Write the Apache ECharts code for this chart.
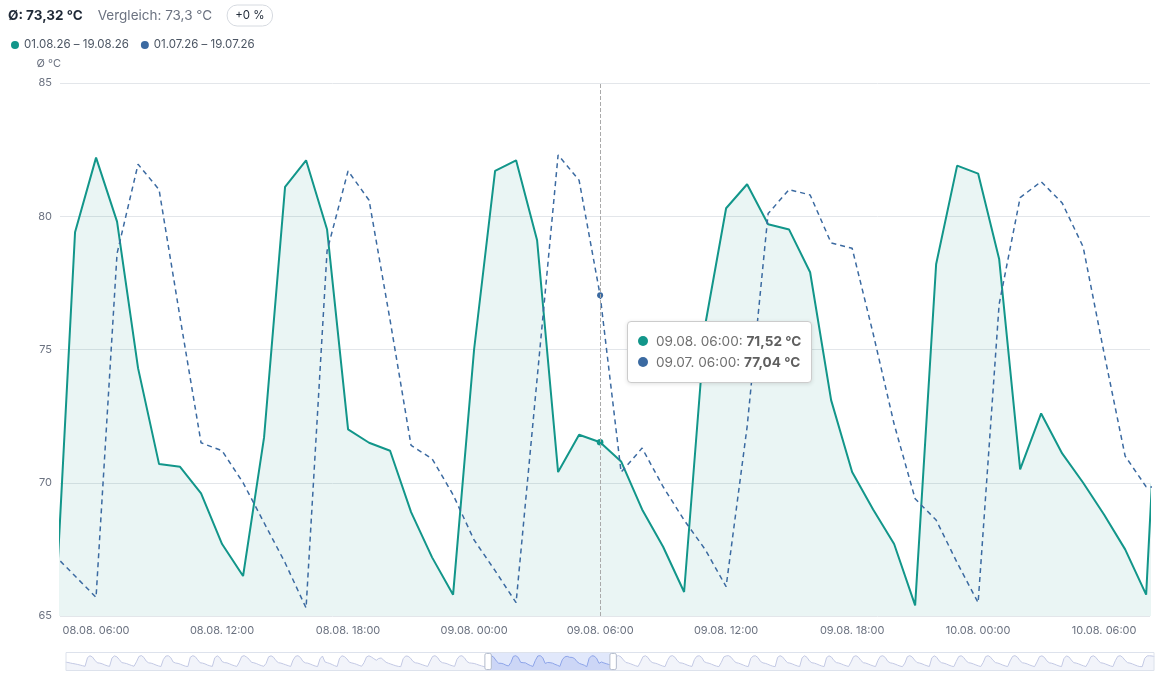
<!DOCTYPE html>
<html>
<head>
<meta charset="utf-8">
<title>Temperatur</title>
<script src="https://cdn.jsdelivr.net/npm/echarts@6/dist/echarts.min.js"></script>
<style>
  html, body { margin: 0; padding: 0; background: #fff; }
  #chart { width: 1173px; height: 680px; }
</style>
</head>
<body>
<div id="chart"></div>
<script>
// Kopfzeile
var avgText = '73,32 °C';
var compareAvgText = '73,3 °C';
var changeText = '+0 %';

// Legende / Zeiträume
var seriesNames = ['01.08.26 – 19.08.26', '01.07.26 – 19.07.26'];

// Stundenwerte August, ab 01.08. 00:00 (eine Zeile pro Tag)
var augStart = '2026-08-01T00:00';
var augValues = [
  72.4, 71.8, 71.0, 70.2, 69.6, 68.8, 67.9, 66.9, 66.0, 79.2, 82.0, 80.1, 75.2, 71.3, 70.9, 69.8, 68.2, 66.8, 65.9, 78.6, 81.8, 80.4, 76.1, 71.6,
  71.0, 70.1, 68.6, 67.3, 66.1, 72.8, 80.9, 82.3, 79.6, 73.8, 71.2, 70.8, 69.5, 67.9, 66.6, 65.7, 76.4, 81.5, 82.0, 79.2, 72.5, 71.0, 70.4, 69.1,
  67.6, 66.2, 65.6, 79.8, 82.1, 80.7, 75.9, 71.4, 70.9, 69.7, 68.0, 66.7, 65.9, 78.9, 81.9, 79.3, 73.2, 71.6, 71.2, 69.8, 68.1, 66.9, 65.8, 72.4,
  80.8, 82.2, 80.0, 76.8, 72.1, 71.3, 70.2, 68.5, 67.1, 66.0, 70.6, 80.4, 81.9, 79.8, 74.6, 71.5, 70.9, 69.6, 68.3, 67.0, 65.8, 75.5, 81.2, 82.1,
  79.4, 73.6, 71.2, 70.8, 69.4, 67.9, 66.5, 65.6, 77.3, 81.6, 72.8, 71.4, 70.3, 68.6, 66.9, 65.7, 78.4, 82.0, 80.6, 77.2, 72.3, 71.1, 70.2, 68.9,
  67.4, 66.1, 71.5, 80.2, 81.9, 80.1, 77.6, 75.2, 77.9, 78.6, 75.4, 72.1, 70.6, 69.3, 68.0, 66.8, 65.9, 65.5, 77.6, 81.7, 81.2, 78.3, 73.4, 71.3,
  70.8, 69.5, 68.1, 66.9, 65.8, 73.9, 80.9, 82.1, 79.6, 74.0, 71.5, 70.9, 69.8, 68.2, 66.9, 65.9, 76.8, 81.4, 82.0, 79.0, 73.5, 71.2, 70.8, 70.3,
  69.1, 67.8, 66.6, 65.6, 64.3, 79.4, 82.2, 79.8, 74.3, 70.7, 70.6, 69.6, 67.7, 66.5, 71.7, 81.1, 82.1, 79.5, 72.0, 71.5, 71.2, 68.9, 67.2, 65.8,
  75.0, 81.7, 82.1, 79.1, 70.4, 71.8, 71.52, 70.8, 69.0, 67.6, 65.9, 75.9, 80.3, 81.2, 79.7, 79.5, 77.9, 73.1, 70.4, 69.0, 67.7, 65.4, 78.2, 81.9,
  81.6, 78.4, 70.5, 72.6, 71.1, 70.0, 68.8, 67.5, 65.8, 81.0, 82.3, 80.2, 75.6, 71.8, 71.0, 69.7, 68.2, 66.8, 65.8, 72.9, 80.7, 82.0, 79.4, 73.8,
  71.4, 70.7, 69.5, 67.9, 66.5, 65.6, 74.8, 81.1, 82.2, 79.9, 74.6, 71.3, 70.9, 69.6, 68.0, 66.7, 65.8, 76.3, 81.3, 82.0, 79.3, 73.0, 71.4, 70.6,
  69.2, 67.6, 66.3, 65.5, 72.1, 80.2, 81.8, 82.1, 79.7, 74.9, 71.6, 70.8, 69.4, 67.9, 66.4, 65.6, 77.8, 81.6, 81.9, 79.1, 73.4, 71.2, 70.5, 69.1,
  67.5, 66.2, 65.5, 79.6, 82.1, 80.3, 75.7, 71.5, 70.9, 69.6, 68.0, 66.6, 65.7, 78.9, 82.0, 79.6, 74.1, 71.4, 70.8, 69.5, 67.9, 66.5, 65.6, 79.2,
  81.9, 80.0, 74.8, 71.6, 71.0, 69.7, 68.1, 66.8, 65.8, 72.6, 80.6, 82.1, 79.8, 75.0, 71.5, 70.9, 69.5, 68.0, 66.6, 65.6, 75.1, 81.2, 82.0, 79.4,
  73.6, 71.3, 70.6, 69.3, 67.8, 66.4, 65.5, 70.9, 80.5, 82.2, 80.1, 75.3, 71.6, 71.0, 69.8, 68.2, 66.8, 65.7, 78.8, 81.9, 79.7, 74.2, 71.4, 70.7,
  69.4, 67.8, 66.4, 65.5, 73.5, 80.8, 82.0, 79.5, 74.4, 71.5, 70.9, 69.6, 68.1, 66.7, 65.7, 71.8, 80.7, 82.1, 79.9, 75.2, 71.6, 70.9, 69.5, 67.9,
  66.6, 65.6, 74.2, 81.0, 82.2, 79.8, 74.7, 71.4, 70.8, 69.6, 68.0, 66.6, 65.6, 72.7, 80.6, 81.9, 79.6, 74.3, 71.3, 70.7, 69.4, 67.9, 66.5, 65.6,
  77.8, 81.8, 80.3, 75.6, 71.5, 70.9, 69.7, 68.1, 66.7, 65.7, 72.3, 80.4, 82.0, 79.7, 74.8, 71.4, 70.8, 69.5, 68.0, 66.6, 65.6, 74.6, 81.1, 82.1,
  79.6, 74.9, 71.5, 70.9, 69.6, 68.0, 66.6, 65.6, 65.5, 78.1, 81.7, 82.0, 81.6, 80.9
];

// Vergleichswerte Juli, ab 08.07. 04:00 (sichtbarer Ausschnitt)
var julStart = '2026-07-08T04:00';
var julShiftDays = 31;
var julValues = [
  67.3, 66.5, 65.7, 78.6, 81.95, 81.0, 76.2, 71.5, 71.2, 70.0, 68.5, 67.0, 65.3, 78.7, 81.7, 80.6, 76.1, 71.4, 70.9, 69.55,
  67.85, 66.7, 65.5, 73.9, 82.3, 81.35, 77.04, 70.4, 71.3, 69.85, 68.6, 67.5, 66.1, 72.1, 80.1, 81.0, 80.8, 79.0, 78.8, 75.6, 72.2, 69.4, 68.6, 67.0,
  65.5, 76.7, 80.7, 81.3, 80.5, 78.85, 74.85, 71.0, 69.85, 69.8
];

// Achsen
var xTicks = ['2026-08-08T06:00', '2026-08-08T12:00', '2026-08-08T18:00', '2026-08-09T00:00', '2026-08-09T06:00',
              '2026-08-09T12:00', '2026-08-09T18:00', '2026-08-10T00:00', '2026-08-10T06:00'];
var yMin = 65, yMax = 85, yStep = 5;
var viewFrom = '2026-08-08T04:17';
var viewTo = '2026-08-10T08:11';
var hoverAt = '2026-08-09T06:00';

var HOUR = 3600 * 1000;
var green = '#12968a';
var blue = '#3b6aa1';

function t(s) { return new Date(s).getTime(); }
function pad(n) { return (n < 10 ? '0' : '') + n; }
function fmtDate(ms) {
    var d = new Date(ms);
    return pad(d.getDate()) + '.' + pad(d.getMonth() + 1) + '. ' + pad(d.getHours()) + ':' + pad(d.getMinutes());
}
function fmtNum(v) { return v.toFixed(2).replace('.', ','); }

var augData = augValues.map(function (v, i) {
    var x = t(augStart) + i * HOUR;
    return [x, v, x];
});
var julData = julValues.map(function (v, i) {
    var real = t(julStart) + i * HOUR;
    return [real + julShiftDays * 24 * HOUR, v, real];
});

var myChart = echarts.init(document.getElementById('chart'));

var font = 'Inter, "Noto Sans", sans-serif';

var option = {
    animation: false,
    textStyle: { fontFamily: font },
    title: {
        left: 8,
        top: 5,
        padding: 0,
        text: '{a|Ø: }{b|' + avgText + '}{s|}{c|Vergleich: ' + compareAvgText + '}{s2|}{d|' + changeText + '}',
        textStyle: {
            fontWeight: 'normal',
            rich: {
                a: { fontSize: 13.5, color: '#1f2937', fontWeight: 'bold', fontFamily: font },
                b: { fontSize: 13.5, color: '#1f2937', fontWeight: 'bold', fontFamily: font },
                s: { width: 15 },
                c: { fontSize: 13.5, color: '#6b7280', fontWeight: 'normal', fontFamily: font },
                s2: { width: 15 },
                d: {
                    fontSize: 11.5, color: '#1f2937', fontWeight: 'normal', fontFamily: font,
                    borderColor: '#d6dae0', borderWidth: 1, borderRadius: 10,
                    padding: [5, 8, 4, 8]
                }
            }
        }
    },
    legend: {
        left: 6,
        top: 34,
        icon: 'circle',
        itemWidth: 8,
        itemHeight: 8,
        itemGap: 12,
        textStyle: { fontSize: 11.5, color: '#4b5563', fontFamily: font },
        data: [
            { name: seriesNames[0], itemStyle: { color: green } },
            { name: seriesNames[1], itemStyle: { color: blue } }
        ]
    },
    grid: { left: 60, right: 23, top: 83, bottom: 64 },
    tooltip: {
        trigger: 'axis',
        alwaysShowContent: true,
        backgroundColor: '#fff',
        borderColor: '#cccccc',
        borderWidth: 1,
        padding: [9, 10, 9, 10],
        extraCssText: 'box-shadow: 0 1px 4px rgba(0,0,0,0.12); border-radius: 4px;',
        position: function (point) { return [point[0] + 27, 321]; },
        axisPointer: {
            type: 'line',
            lineStyle: { color: '#aaaaaa', type: 'dashed', width: 1 }
        },
        formatter: function (params) {
            return params.map(function (p) {
                var c = p.seriesIndex === 0 ? green : blue;
                return '<div style="line-height:21px;font-size:13.6px;color:#707070;font-family:Inter,sans-serif">' +
                    '<span style="display:inline-block;width:10px;height:10px;border-radius:5px;background:' + c + ';margin-right:8px;"></span>' +
                    fmtDate(p.value[2]) + ': <b style="color:#5f5f5f">' + fmtNum(p.value[1]) + ' °C</b></div>';
            }).join('');
        }
    },
    xAxis: {
        type: 'value',
        min: 'dataMin',
        max: 'dataMax',
        axisLine: { show: false },
        axisTick: { show: false },
        splitLine: { show: false },
        axisLabel: {
            customValues: xTicks.map(t),
            formatter: function (v) { return fmtDate(v); },
            fontSize: 11,
            color: '#6b7280',
            margin: 9,
            hideOverlap: false
        }
    },
    yAxis: {
        type: 'value',
        min: yMin,
        max: yMax,
        interval: yStep,
        name: 'Ø °C',
        nameLocation: 'end',
        nameGap: 14,
        nameTextStyle: { fontSize: 11, color: '#6b7280', align: 'right', padding: [0, -1, 0, 0] },
        axisLine: { show: false },
        axisTick: { show: false },
        axisLabel: { fontSize: 11, color: '#6b7280', margin: 8 },
        splitLine: { lineStyle: { color: '#e3e6ea', width: 1 } }
    },
    dataZoom: [
        {
            type: 'inside',
            filterMode: 'none',
            startValue: t(viewFrom),
            endValue: t(viewTo)
        },
        {
            type: 'slider',
            filterMode: 'none',
            startValue: t(viewFrom),
            endValue: t(viewTo),
            left: 63,
            right: 21,
            bottom: 9,
            height: 19,
            showDetail: false,
            brushSelect: false,
            moveHandleSize: 0,
            borderColor: '#dde2ec',
            fillerColor: 'rgba(135,165,240,0.25)',
            handleIcon: 'path://M2,0 L6,0 Q8,0 8,2 L8,18 Q8,20 6,20 L2,20 Q0,20 0,18 L0,2 Q0,0 2,0 Z',
            handleSize: '85%',
            handleStyle: { color: '#ffffff', borderColor: '#b4bccc', borderWidth: 1 },
            dataBackground: {
                lineStyle: { color: '#c3c9e4', width: 1 },
                areaStyle: { color: '#e9ecf7', opacity: 0.6 }
            },
            selectedDataBackground: {
                lineStyle: { color: '#8ea3e6', width: 1 },
                areaStyle: { color: '#8ea3e6', opacity: 0.25 }
            }
        }
    ],
    series: [
        {
            name: seriesNames[0],
            type: 'line',
            data: augData,
            encode: { x: 0, y: 1 },
            showSymbol: false,
            symbol: 'circle',
            symbolSize: 6,
            color: green,
            lineStyle: { color: green, width: 2 },
            areaStyle: { color: 'rgba(18,148,134,0.13)', origin: 'start' },
            emphasis: { disabled: true }
        },
        {
            name: seriesNames[1],
            type: 'line',
            data: julData,
            encode: { x: 0, y: 1 },
            showSymbol: false,
            symbol: 'circle',
            symbolSize: 5,
            color: blue,
            lineStyle: { color: blue, width: 1.5, type: [5, 4] },
            emphasis: { disabled: true }
        }
    ]
};

myChart.setOption(option);

var px = myChart.convertToPixel({ gridIndex: 0 }, [t(hoverAt), 75]);
myChart.dispatchAction({ type: 'showTip', x: px[0], y: px[1] });
</script>
</body>
</html>
